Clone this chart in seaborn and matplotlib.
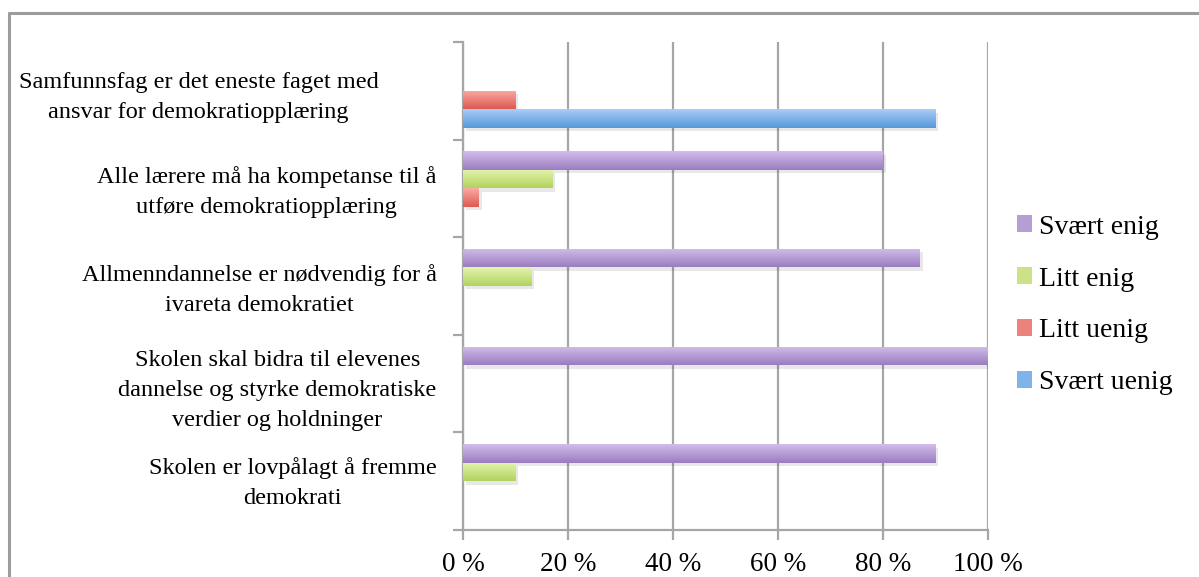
import numpy as np
import pandas as pd
import matplotlib
matplotlib.use("Agg")
import matplotlib.pyplot as plt
import matplotlib.patheffects as pe
from matplotlib.colors import LinearSegmentedColormap
from matplotlib.lines import Line2D
from matplotlib.patches import Patch
from matplotlib.transforms import ScaledTranslation
import seaborn as sns

# Survey statements (top to bottom)
statements = [
    "Samfunnsfag er det eneste faget med\nansvar for demokratiopplæring",
    "Alle lærere må ha kompetanse til å\nutføre demokratiopplæring",
    "Allmenndannelse er nødvendig for å\nivareta demokratiet",
    "Skolen skal bidra til elevenes\ndannelse og styrke demokratiske\nverdier og holdninger",
    "Skolen er lovpålagt å fremme\ndemokrati",
]
responses = ["Svært enig", "Litt enig", "Litt uenig", "Svært uenig"]

# Share of respondents (%) per response, in statement order
svaert_enig = [0, 80, 87, 100, 90]
litt_enig = [0, 17, 13, 0, 10]
litt_uenig = [10, 3, 0, 0, 0]
svaert_uenig = [90, 0, 0, 0, 0]

x_ticks = [0, 20, 40, 60, 80, 100]
x_tick_labels = ["0 %", "20 %", "40 %", "60 %", "80 %", "100 %"]

# light (top) / dark (bottom) shade of each response colour
shades = {
    "Svært enig": ("#d2bdea", "#9a7dbf"),
    "Litt enig": ("#e3f5ad", "#b2d25f"),
    "Litt uenig": ("#fbaaa6", "#dc5a52"),
    "Svært uenig": ("#a9cdf7", "#5598da"),
}
mid = {k: tuple((np.array(matplotlib.colors.to_rgb(a)) + np.array(matplotlib.colors.to_rgb(b))) / 2)
       for k, (a, b) in shades.items()}

df = pd.DataFrame({
    "statement": np.repeat(statements, len(responses)),
    "response": responses * len(statements),
    "share": np.array([svaert_enig, litt_enig, litt_uenig, svaert_uenig]).T.ravel(),
})

sns.set_theme(style="white")
plt.rcParams["font.family"] = ["Liberation Serif", "DejaVu Serif"]
plt.rcParams["text.color"] = "black"
plt.rcParams["xtick.labelcolor"] = "black"
plt.rcParams["ytick.labelcolor"] = "black"

fig = plt.figure(figsize=(11.99, 5.77), dpi=100)
ax = fig.add_axes([463 / 1199, 1 - 530 / 577, 525 / 1199, 488 / 577])

sns.barplot(data=df, x="share", y="statement", hue="response", order=statements,
            hue_order=responses, palette=mid, orient="h", width=0.76,
            legend=False, ax=ax, zorder=3)

ax.set_xlim(0, 100)
ax.set_ylim(4.5, -0.5)

# vertical gradient + soft shadow on each bar
grad = np.linspace(0, 1, 64).reshape(-1, 1)
for resp, container in zip(responses, ax.containers):
    cmap = LinearSegmentedColormap.from_list(resp, list(shades[resp]))
    for bar in container:
        w = bar.get_width()
        if w <= 0:
            bar.set_visible(False)
            continue
        bar.set_edgecolor("none")
        bar.set_path_effects([pe.SimplePatchShadow(offset=(2, -2.5), shadow_rgbFace="#000000", alpha=0.09),
                              pe.Normal()])
        x0, y0 = bar.get_x(), bar.get_y()
        h = bar.get_height()
        im = ax.imshow(grad, cmap=cmap, aspect="auto", extent=(x0, x0 + w, y0 + h, y0),
                       zorder=3.5, interpolation="bilinear")
        im.set_clip_path(bar)

ax.set_xlim(0, 100)
ax.set_ylim(4.5, -0.5)

grid_c = "#a6a6a6"
ax.set_xticks(x_ticks, x_tick_labels)
ax.xaxis.grid(True, color=grid_c, linewidth=1.6, zorder=0)
ax.set_axisbelow(True)
ax.tick_params(axis="x", bottom=True, length=7, width=1.6, color=grid_c, pad=9,
               labelsize=19.5, labelcolor="black")

ax.set_yticks(range(len(statements)), statements)
ax.set_yticks(np.arange(-0.5, len(statements)), minor=True)
ax.tick_params(axis="y", which="major", left=False, pad=13, labelsize=17.5, labelcolor="black")
ax.tick_params(axis="y", which="minor", left=True, length=7, width=1.6, color=grid_c)
label_shift = [(-58, 0), (0, 3), (0, 3), (0, 0), (0, 5)]
for (dx, dy), lab in zip(label_shift, ax.get_yticklabels()):
    lab.set_multialignment("center")
    lab.set_linespacing(1.55)
    lab.set_transform(lab.get_transform() + ScaledTranslation(dx / 100, dy / 100, fig.dpi_scale_trans))

ax.set_xlabel("")
ax.set_ylabel("")
for side in ["top", "right"]:
    ax.spines[side].set_visible(False)
for side in ["left", "bottom"]:
    ax.spines[side].set_color(grid_c)
    ax.spines[side].set_linewidth(1.6)

handles = [Patch(facecolor=mid[r], edgecolor="none") for r in responses]
fig.legend(handles, responses, loc="center left", bbox_to_anchor=(992 / 1199, 1 - 305 / 577),
           frameon=False, fontsize=20, handlelength=0.55, handleheight=0.55,
           handletextpad=0.25, labelspacing=0.97, labelcolor="black")

# outer chart frame
frame_c = "#9c9c9c"
fig.add_artist(Line2D([9 / 1199, 9 / 1199], [0, 1 - 13 / 577], color=frame_c, lw=2.2))
fig.add_artist(Line2D([9 / 1199, 1], [1 - 13 / 577, 1 - 13 / 577], color=frame_c, lw=2.2))

fig.savefig("out.png", dpi=100, facecolor="white")
